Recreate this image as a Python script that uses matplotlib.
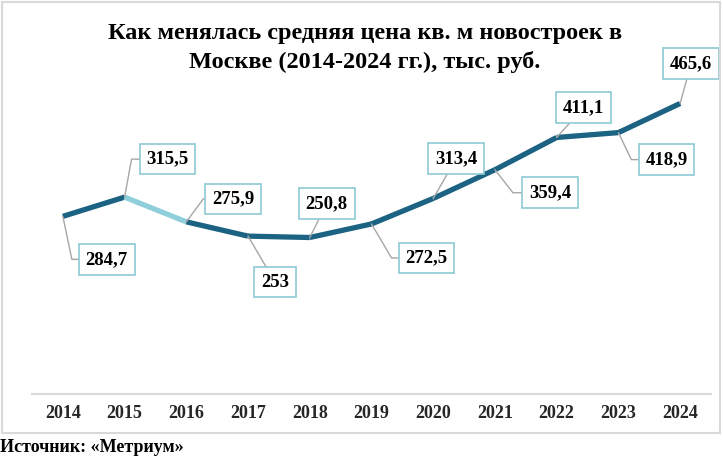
import numpy as np
import matplotlib
matplotlib.use("Agg")
import matplotlib.pyplot as plt
from matplotlib.patches import Rectangle

years = [2014, 2015, 2016, 2017, 2018, 2019, 2020, 2021, 2022, 2023, 2024]
prices = [284.7, 315.5, 275.9, 253.0, 250.8, 272.5, 313.4, 359.4, 411.1, 418.9, 465.6]
labels = ["284,7", "315,5", "275,9", "253", "250,8", "272,5", "313,4", "359,4", "411,1", "418,9", "465,6"]

# label box offsets from the point (pixels), and leader bend dx (None = straight leader)
offsets = [(44, -43), (43, 38), (47, 23), (27, -46), (17, 34), (55, -34),
           (23, 40), (55, -23), (27, 30), (48, -27), (11, 40)]
bends = [9, 7, 17, None, None, 20, None, 18, None, 13, None]

DARK = "#1b6283"
LIGHT = "#8fcfdb"
FONT = "Liberation Serif"

fig = plt.figure(figsize=(7.23, 4.65), dpi=100)
ax = fig.add_axes([32 / 723, 1 - 394 / 465, 679 / 723, 312 / 465])

# main line, 2015-2016 segment lighter
for i in range(len(years) - 1):
    c = LIGHT if years[i] == 2015 else DARK
    ax.plot(years[i:i + 2], prices[i:i + 2], color=c, lw=3.8,
            solid_capstyle="butt", zorder=3)

for x, y, lab, (dx, dy), b in zip(years, prices, labels, offsets, bends):
    if b is None:
        cs = "arc3,rad=0"
    else:
        ang = np.degrees(np.arctan2(dy, b))
        cs = f"angle,angleA=0,angleB={ang:.1f},rad=0"
    ax.annotate(lab, xy=(x, y), xytext=(dx, dy), textcoords="offset pixels",
                ha="center", va="center", fontsize=13.5, fontweight="bold",
                family=FONT, color="black",
                bbox=dict(boxstyle="square,pad=0.36", fc="white", ec="#8cc9d3", lw=1.2),
                arrowprops=dict(arrowstyle="-", color="#a6a6a6", lw=1,
                                connectionstyle=cs, shrinkA=0, shrinkB=0),
                zorder=5, annotation_clip=False)

ax.set_xlim(2013.5, 2024.5)
ax.set_ylim(0, 500)
ax.set_yticks([])
ax.set_xticks(years)
ax.set_xticklabels([str(y) for y in years], family=FONT, fontweight="bold",
                   fontsize=13, color="#262626")
ax.tick_params(axis="x", length=0, pad=8)
for s in ["top", "right", "left"]:
    ax.spines[s].set_visible(False)
ax.spines["bottom"].set_color("#d9d9d9")
ax.spines["bottom"].set_linewidth(1.5)
ax.patch.set_alpha(0)

fig.text(0.505, 1 - 48 / 465,
         "Как менялась средняя цена кв. м новостроек в\nМоскве (2014-2024 гг.), тыс. руб.",
         ha="center", va="center", family=FONT, fontweight="bold",
         fontsize=17.5, linespacing=1.45)

fig.patches.append(Rectangle((2 / 723, 1 - 433 / 465), 718 / 723, 431 / 465,
                             transform=fig.transFigure, fill=False,
                             ec="#d9d9d9", lw=1.5))

fig.text(0.0, 1 - 447 / 465, "Источник: «Метриум»", ha="left", va="center",
         family=FONT, fontweight="bold", fontsize=13)

fig.savefig("out.png", dpi=100)
